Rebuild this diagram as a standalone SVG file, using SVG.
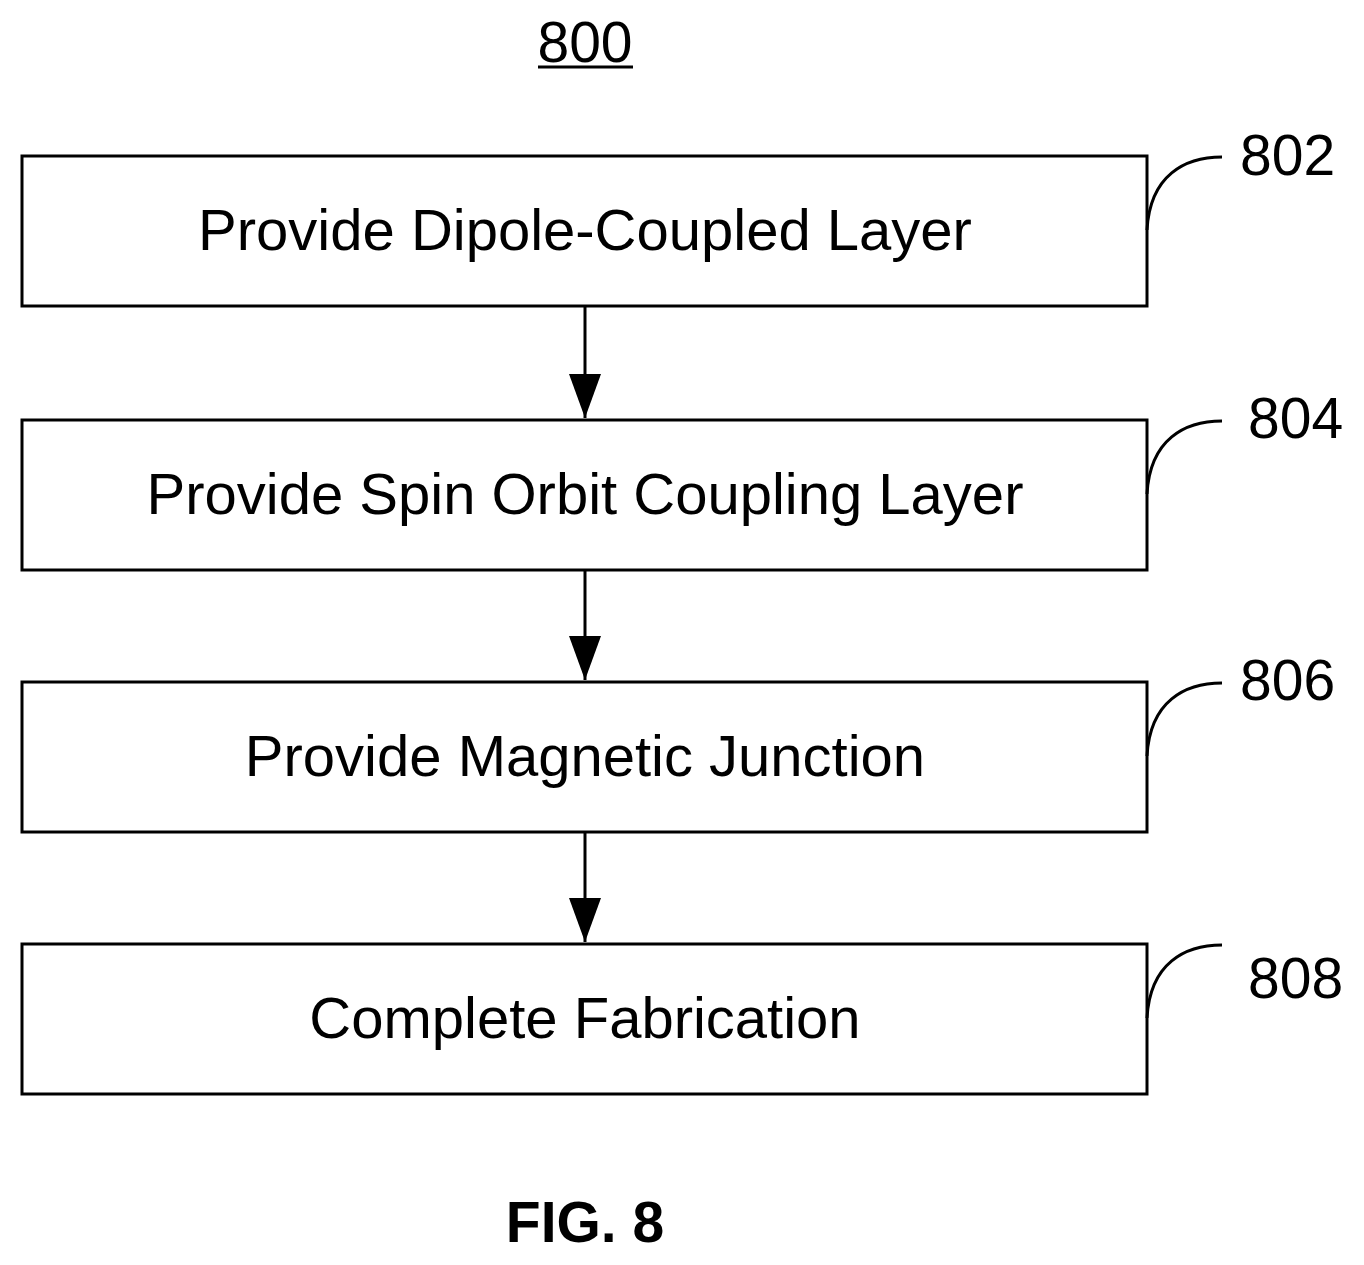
<svg xmlns="http://www.w3.org/2000/svg" width="1364" height="1265" viewBox="0 0 1364 1265">
<style>
.box{fill:#fff;stroke:#000;stroke-width:3}
.t{font-family:"Liberation Sans",Arial,sans-serif;font-size:58px;text-anchor:middle}
.n{font-family:"Liberation Sans",Arial,sans-serif;font-size:57px}
.c{fill:none;stroke:#000;stroke-width:3}
</style>
<defs><marker id="a" markerWidth="44" markerHeight="32" refX="44" refY="16" orient="auto" markerUnits="userSpaceOnUse"><path d="M0,0 L44,16 L0,32 Z"/></marker></defs>
<rect width="1364" height="1265" fill="#fff"/>
<text class="n" x="585" y="62" text-anchor="middle">800</text>
<line x1="538" y1="67" x2="633" y2="67" stroke="#000" stroke-width="3"/>
<g id="connectors">
<line class="c" x1="585" y1="306" x2="585" y2="418" marker-end="url(#a)"/>
<line class="c" x1="585" y1="570" x2="585" y2="680" marker-end="url(#a)"/>
<line class="c" x1="585" y1="832" x2="585" y2="942" marker-end="url(#a)"/>
</g>
<g id="n802"><rect class="box" x="22" y="156" width="1125" height="150"/><text class="t" x="585" y="250">Provide Dipole-Coupled Layer</text>
<path class="c" d="M1147,230 C1150,175 1185,157 1222,157"/><text class="n" x="1240" y="175">802</text></g>
<g id="n804"><rect class="box" x="22" y="420" width="1125" height="150"/><text class="t" x="585" y="514">Provide Spin Orbit Coupling Layer</text>
<path class="c" d="M1147,494 C1150,439 1185,421 1222,421"/><text class="n" x="1248" y="438">804</text></g>
<g id="n806"><rect class="box" x="22" y="682" width="1125" height="150"/><text class="t" x="585" y="776">Provide Magnetic Junction</text>
<path class="c" d="M1147,756 C1150,701 1185,683 1222,683"/><text class="n" x="1240" y="700">806</text></g>
<g id="n808"><rect class="box" x="22" y="944" width="1125" height="150"/><text class="t" x="585" y="1038">Complete Fabrication</text>
<path class="c" d="M1147,1018 C1150,963 1185,945 1222,945"/><text class="n" x="1248" y="998">808</text></g>
<text x="585" y="1242" text-anchor="middle" font-family="Liberation Sans,Arial,sans-serif" font-weight="bold" font-size="57">FIG. 8</text>
</svg>
